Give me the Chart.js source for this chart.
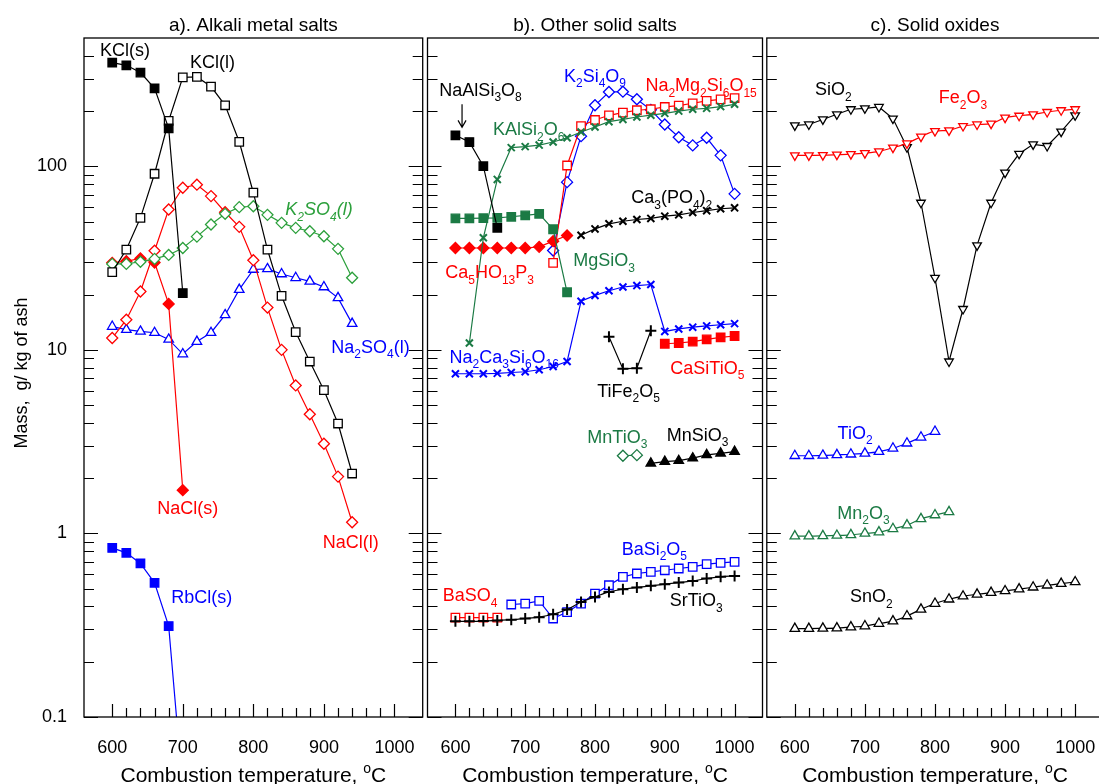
<!DOCTYPE html>
<html>
<head>
<meta charset="utf-8">
<script src="https://cdn.jsdelivr.net/npm/chart.js@4"></script>
<style>
  html, body { margin: 0; padding: 0; background: #fff; overflow: hidden; width: 1099px; height: 784px; }
  canvas { position: absolute; top: 0; }
</style>
</head>
<body>
<canvas id="panelA" width="430" height="784" style="left:0px"></canvas>
<canvas id="panelB" width="350" height="784" style="left:420px"></canvas>
<canvas id="panelC" width="350" height="784" style="left:760px"></canvas>
<script>
// --- temperatures (°C) and tick values ---
const temps = [600,620,640,660,680,700,720,740,760,780,800,820,840,860,880,900,920,940,960,980,1000];
const xLabelTicks = [600,700,800,900,1000];
const xMinorTicks = [600,620,640,660,680,700,720,740,760,780,800,820,840,860,880,900,920,940,960,980,1000];
const yLabelTicks = [0.1,1,10,100];
const yMinorTicks = [0.2,0.3,0.4,0.5,0.6,0.7,0.8,0.9,2,3,4,5,6,7,8,9,20,30,40,50,60,70,80,90,200,300,400];

// --- a) alkali metal salts (g/kg of ash) ---
const kclS    = [367,355,324,266,161,20.4];                        // 600-700
const kclL    = [26.5,35.2,52.4,91.1,177,305,307,272,215,136,71.8,35.2,19.7,12.5,8.64,6.03,3.97,2.12]; // 600-940
const k2so4L  = [29.4,29.4,30.2,31.3,32.9,35.9,41.4,48.2,55.1,59.9,60.6,54.4,49.2,46.2,44.3,41.6,35.5,24.7];
const naclS   = [29.8,30.4,31.5,29.9,17.8,1.72];                   // 600-700
const naclL   = [11.6,14.6,20.8,34.7,58.2,76.4,79.4,68.8,56.2,46.8,30.8,17.0,10.0,6.4,4.46,3.08,2.04,1.15];
const na2so4L = [13.4,12.9,12.6,12.4,11.4,9.49,11.1,12.4,15.5,21.3,27.4,27.6,25.9,24.7,23.6,22.0,19.2,13.9];
const rbclS   = [0.834,0.784,0.686,0.538,0.313,0.04];              // 600-700

// --- b) other solid salts ---
const naAlSi3O8    = [147.5,135.6,100.2,46.2];                     // 600-660
const kAlSi2O6     = [10.9,40.8,84.8,126.4,128,130.5,135.6,143,153.7,163.7,175,180,185.6,190,194.4,200,204.6,207,211.5,217.7]; // 620-1000
const na2Mg2Si6O15 = [29.8,101,165.7,178.8,189.6,196,202,204.6,210.5,214,220.5,227,231.8,235]; // 740-1000
const k2Si4O9      = [34.8,82,146,215,254,255,232,203,169,144,130,143,114.7,70.8];             // 740-1000
const ca3PO42      = [42.1,45.6,48.6,50.2,51.3,52,53.5,54.4,56,57.3,58.7,59.4];                // 780-1000
const mgSiO3       = [52,52,52.2,52.4,53.1,54,55.1,45.4,20.6];     // 600-760
const ca5HO13P3    = [35.9,35.9,35.9,35.9,35.9,35.9,36.4,39.1,42]; // 600-760
const na2Ca3Si6O16 = [7.41,7.41,7.41,7.45,7.53,7.6,7.79,8.12,8.64,18.4,19.8,21,22,22.4,22.7,12.6,13.0,13.3,13.5,13.7,13.9];
const caSiTiO5     = [10.8,10.9,11.1,11.4,11.7,11.9];              // 900-1000
const tiFe2O5      = [11.8,7.88,7.95,12.7];                        // 820-880
const mnTiO3       = [2.65,2.67];                                  // 840-860
const mnSiO3       = [2.41,2.46,2.49,2.57,2.68,2.73,2.79];         // 880-1000
const baSO4        = [0.348,0.348,0.348,0.348];                    // 600-660
const baSi2O5      = [0.41,0.415,0.429,0.344,0.373,0.415,0.47,0.522,0.58,0.605,0.617,0.63,0.644,0.657,0.68,0.691,0.7]; // 680-1000
const srTiO3       = [0.332,0.332,0.333,0.336,0.339,0.344,0.35,0.363,0.385,0.423,0.451,0.48,0.497,0.508,0.518,0.529,0.54,0.551,0.568,0.58,0.587];

// --- c) solid oxides ---
const siO2  = [167,169,180,192,204.6,207,210.5,182,127,63.3,24.7,8.64,16.7,37.1,63.3,92.3,117,131.7,129,154.5,189.6];
const fe2O3 = [114.7,114.7,115,115.7,116.5,118,120.6,126.4,133.4,145,155.6,157,165.7,169,170.7,184,188.5,192,197.6,202,204.6];
const tiO2  = [2.65,2.65,2.66,2.68,2.7,2.73,2.79,2.91,3.1,3.34,3.59];           // 600-800
const mn2O3 = [0.967,0.967,0.97,0.975,0.983,1.0,1.016,1.06,1.11,1.2,1.26,1.31]; // 600-820
const snO2  = [0.303,0.303,0.304,0.305,0.309,0.313,0.323,0.333,0.355,0.386,0.415,0.438,0.455,0.466,0.476,0.486,0.497,0.509,0.522,0.533,0.544];

// colours
const BLACK = '#000000', RED = '#ff0000', BLUE = '#0000ff', GREEN = '#2ca03c', DKGREEN = '#1b7a44';
const FAMILY = "'Liberation Sans', Arial, sans-serif";

// pair values with temperatures starting at t0
const at = (t0, vals) => vals.map((v, i) => ({ x: temps[temps.indexOf(t0) + i], y: v }));

const MARKS = {
  sq:      { pointStyle: 'rect', pointRadius: 6 },
  di:      { pointStyle: 'rectRot', pointRadius: 5.5 },
  tri:     { pointStyle: 'triangle', pointRadius: 5.5 },
  triDown: { pointStyle: 'triangle', pointRadius: 5, pointRotation: 180 },
  x:       { pointStyle: 'crossRot', pointRadius: 5, pointBorderWidth: 2 },
  plus:    { pointStyle: 'cross', pointRadius: 5.5, pointBorderWidth: 2 }
};

function serie(label, data, color, mark, filled, smooth) {
  return Object.assign({
    label, data,
    borderColor: color, borderWidth: 1.2,
    pointBorderColor: color,
    pointBackgroundColor: filled ? color : '#ffffff',
    pointBorderWidth: 1.3,
    fill: false, tension: 0,
    cubicInterpolationMode: smooth ? 'monotone' : 'default'
  }, MARKS[mark]);
}

// text with _12 subscripts and ^o superscripts
function richText(ctx, text, x, y, size, color, italic) {
  const tokens = [];
  const re = /_(\d+)|\^(\w)|([^_^]+)/g;
  let m;
  while ((m = re.exec(text))) {
    if (m[1]) tokens.push({ t: m[1], k: 'sub' });
    else if (m[2]) tokens.push({ t: m[2], k: 'sup' });
    else tokens.push({ t: m[3], k: 'n' });
  }
  const fontOf = k => (italic ? 'italic ' : '') + (k === 'n' ? size : Math.round(size * 0.68)) + 'px ' + FAMILY;
  let w = 0;
  tokens.forEach(tk => { ctx.font = fontOf(tk.k); tk.w = ctx.measureText(tk.t).width; w += tk.w; });
  let cx = x - w / 2;
  const base = y + size * 0.33;
  ctx.fillStyle = color;
  ctx.textAlign = 'left';
  ctx.textBaseline = 'alphabetic';
  tokens.forEach(tk => {
    ctx.font = fontOf(tk.k);
    const dy = tk.k === 'sub' ? size * 0.3 : (tk.k === 'sup' ? -size * 0.42 : 0);
    ctx.fillText(tk.t, cx, base + dy);
    cx += tk.w;
  });
}

// frame, inward ticks, titles and notes
function panelPlugin(title, notes, rightTicks, extra) {
  return {
    id: 'panel',
    afterDraw(chart) {
      const { ctx, chartArea: a, scales: { x, y } } = chart;
      ctx.save();
      ctx.strokeStyle = '#000';
      ctx.lineWidth = 1.3;
      ctx.strokeRect(a.left, a.top, a.right - a.left, a.bottom - a.top);

      ctx.lineWidth = 1.2;
      ctx.beginPath();
      xMinorTicks.forEach(t => {
        const px = Math.round(x.getPixelForValue(t)) + 0.5;
        const len = xLabelTicks.includes(t) ? 13 : 9;
        ctx.moveTo(px, a.bottom);
        ctx.lineTo(px, a.bottom - len);
      });
      yLabelTicks.concat(yMinorTicks).forEach(v => {
        const py = Math.round(y.getPixelForValue(v)) + 0.5;
        const len = yLabelTicks.includes(v) ? 14 : 10;
        ctx.moveTo(a.left, py); ctx.lineTo(a.left + len, py);
        if (rightTicks) { ctx.moveTo(a.right, py); ctx.lineTo(a.right - len, py); }
      });
      ctx.stroke();

      const mid = (a.left + a.right) / 2;
      richText(ctx, title, mid, 25, 19, '#000', false);
      richText(ctx, 'Combustion temperature, ^oC', mid, 775, 21, '#000', false);

      notes.forEach(n => {
        richText(ctx, n.text, x.getPixelForValue(n.x), y.getPixelForValue(n.y), 18, n.color, n.italic);
      });
      if (extra) extra(ctx, a, x, y);
      ctx.restore();
    }
  };
}

function noPad(s) {
  s.paddingLeft = 0; s.paddingRight = 0; s.paddingTop = 0; s.paddingBottom = 0;
}

function makeChart(id, datasets, title, notes, showY, padLeft, rightTicks, extra) {
  return new Chart(document.getElementById(id), {
    type: 'line',
    data: { datasets },
    options: {
      responsive: false,
      animation: false,
      devicePixelRatio: 1,
      layout: { padding: { top: 38, left: padLeft, right: 6, bottom: 0 } },
      plugins: { legend: { display: false }, tooltip: { enabled: false }, title: { display: false } },
      scales: {
        x: {
          type: 'linear', min: 560, max: 1040,
          afterBuildTicks: s => { s.ticks = xLabelTicks.map(v => ({ value: v })); },
          afterFit: s => { s.height = 67; noPad(s); },
          grid: { display: false, drawTicks: false },
          border: { display: false },
          ticks: { color: '#000', font: { family: FAMILY, size: 18 }, padding: 20, maxRotation: 0, autoSkip: false,
                   callback: v => String(v) }
        },
        y: {
          type: 'logarithmic', min: 0.1, max: 500, display: showY,
          afterBuildTicks: s => { s.ticks = yLabelTicks.map(v => ({ value: v })); },
          afterFit: s => { s.width = showY ? 84 : 0; noPad(s); },
          grid: { display: false, drawTicks: false },
          border: { display: false },
          ticks: { color: '#000', font: { family: FAMILY, size: 18 }, padding: 17, autoSkip: false,
                   callback: v => String(v) }
        }
      }
    },
    plugins: [panelPlugin(title, notes, rightTicks, extra)]
  });
}

// --- panel a ---
makeChart('panelA', [
  serie('KCl(s)', at(600, kclS), BLACK, 'sq', true),
  serie('KCl(l)', at(600, kclL), BLACK, 'sq', false),
  serie('K2SO4(l)', at(600, k2so4L), GREEN, 'di', false),
  serie('NaCl(l)', at(600, naclL), RED, 'di', false),
  serie('NaCl(s)', at(600, naclS), RED, 'di', true),
  serie('Na2SO4(l)', at(600, na2so4L), BLUE, 'tri', false),
  serie('RbCl(s)', at(600, rbclS), BLUE, 'sq', true)
], 'a). Alkali metal salts', [
  { text: 'KCl(s)', x: 618, y: 429, color: BLACK },
  { text: 'KCl(l)', x: 742, y: 369, color: BLACK },
  { text: 'K_2SO_4(l)', x: 893, y: 58.2, color: GREEN, italic: true },
  { text: 'Na_2SO_4(l)', x: 966, y: 10.4, color: BLUE },
  { text: 'NaCl(s)', x: 707, y: 1.37, color: RED },
  { text: 'NaCl(l)', x: 938, y: 0.896, color: RED },
  { text: 'RbCl(s)', x: 727, y: 0.449, color: BLUE }
], true, 0, true, (ctx, a, x, y) => {
  ctx.save();
  ctx.translate(22, 373);
  ctx.rotate(-Math.PI / 2);
  ctx.font = '18px ' + FAMILY;
  ctx.fillStyle = '#000';
  ctx.textAlign = 'center';
  ctx.textBaseline = 'middle';
  ctx.fillText('Mass,  g/ kg of ash', 0, 0);
  ctx.restore();
});

// --- panel b ---
makeChart('panelB', [
  serie('NaAlSi3O8', at(600, naAlSi3O8), BLACK, 'sq', true),
  serie('KAlSi2O6', at(620, kAlSi2O6), DKGREEN, 'x', false),
  serie('MgSiO3', at(600, mgSiO3), DKGREEN, 'sq', true),
  serie('Ca5HO13P3', at(600, ca5HO13P3), RED, 'di', true),
  serie('Na2Mg2Si6O15', at(740, na2Mg2Si6O15), RED, 'sq', false),
  serie('K2Si4O9', at(740, k2Si4O9), BLUE, 'di', false),
  serie('Ca3(PO4)2', at(780, ca3PO42), BLACK, 'x', false),
  serie('Na2Ca3Si6O16', at(600, na2Ca3Si6O16), BLUE, 'x', false),
  serie('CaSiTiO5', at(900, caSiTiO5), RED, 'sq', true),
  serie('TiFe2O5', at(820, tiFe2O5), BLACK, 'plus', false),
  serie('MnTiO3', at(840, mnTiO3), DKGREEN, 'di', false),
  serie('MnSiO3', at(880, mnSiO3), BLACK, 'tri', true),
  serie('SrTiO3', at(600, srTiO3), BLACK, 'plus', false, true),
  serie('BaSO4', at(600, baSO4), RED, 'sq', false),
  serie('BaSi2O5', at(680, baSi2O5), BLUE, 'sq', false)
], 'b). Other solid salts', [
  { text: 'NaAlSi_3O_8', x: 636, y: 260, color: BLACK },
  { text: 'KAlSi_2O_6', x: 705, y: 159, color: DKGREEN },
  { text: 'K_2Si_4O_9', x: 800, y: 310, color: BLUE },
  { text: 'Na_2Mg_2Si_6O_15', x: 952, y: 276, color: RED },
  { text: 'Ca_3(PO_4)_2', x: 910, y: 67.7, color: BLACK },
  { text: 'MgSiO_3', x: 813, y: 30.7, color: DKGREEN },
  { text: 'Ca_5HO_13P_3', x: 649, y: 26.4, color: RED },
  { text: 'Na_2Ca_3Si_6O_16', x: 670, y: 9.17, color: BLUE },
  { text: 'TiFe_2O_5', x: 848, y: 5.98, color: BLACK },
  { text: 'CaSiTiO_5', x: 961, y: 7.99, color: RED },
  { text: 'MnTiO_3', x: 832, y: 3.36, color: DKGREEN },
  { text: 'MnSiO_3', x: 947, y: 3.44, color: BLACK },
  { text: 'BaSi_2O_5', x: 885, y: 0.821, color: BLUE },
  { text: 'BaSO_4', x: 621, y: 0.461, color: RED },
  { text: 'SrTiO_3', x: 945, y: 0.432, color: BLACK }
], false, 4, true, (ctx, a, x, y) => {
  // arrow pointing at NaAlSi3O8 first point
  const px = x.getPixelForValue(609.5);
  const y0 = y.getPixelForValue(218), y1 = y.getPixelForValue(163);
  ctx.strokeStyle = '#000';
  ctx.lineWidth = 1.2;
  ctx.beginPath();
  ctx.moveTo(px, y0); ctx.lineTo(px, y1);
  ctx.moveTo(px - 4, y1 - 7); ctx.lineTo(px, y1); ctx.lineTo(px + 4, y1 - 7);
  ctx.stroke();
});

// --- panel c ---
makeChart('panelC', [
  serie('Fe2O3', at(600, fe2O3), RED, 'triDown', false, true),
  serie('SiO2', at(600, siO2), BLACK, 'triDown', false),
  serie('TiO2', at(600, tiO2), BLUE, 'tri', false, true),
  serie('Mn2O3', at(600, mn2O3), DKGREEN, 'tri', false, true),
  serie('SnO2', at(600, snO2), BLACK, 'tri', false, true)
], 'c). Solid oxides', [
  { text: 'SiO_2', x: 655, y: 263, color: BLACK },
  { text: 'Fe_2O_3', x: 840, y: 238, color: RED },
  { text: 'TiO_2', x: 686, y: 3.53, color: BLUE },
  { text: 'Mn_2O_3', x: 698, y: 1.29, color: DKGREEN },
  { text: 'SnO_2', x: 709, y: 0.455, color: BLACK }
], false, 4, false);
</script>
</body>
</html>
